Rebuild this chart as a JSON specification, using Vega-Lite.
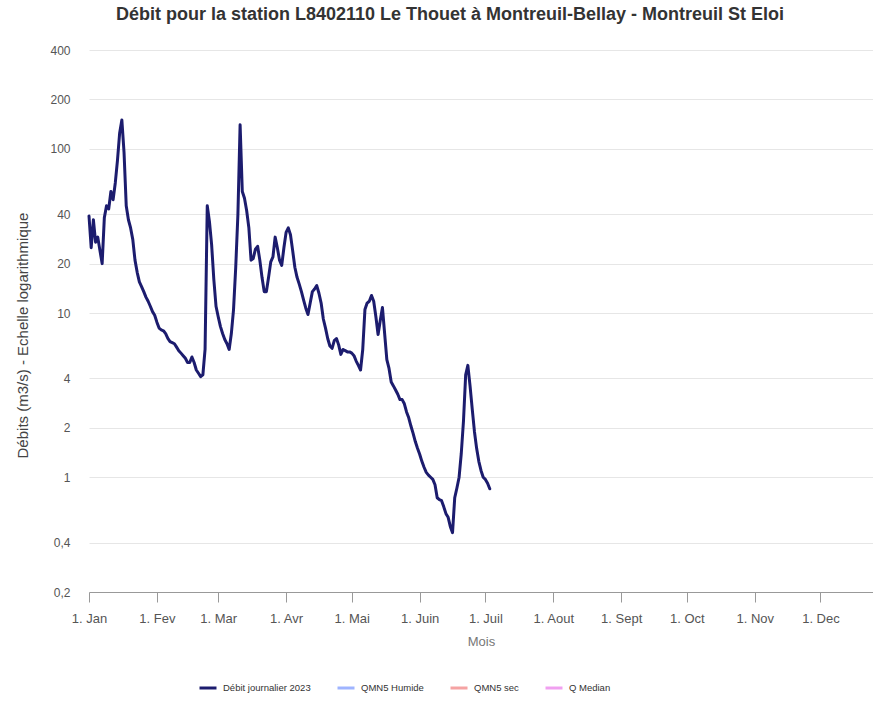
{
  "$schema": "https://vega.github.io/schema/vega-lite/v6.json",
  "width": 784,
  "height": 542,
  "autosize": {"type": "none"},
  "padding": {"left": 89, "top": 50, "right": 0, "bottom": 121},
  "background": "white",
  "title": {
    "text": "Débit pour la station L8402110 Le Thouet à Montreuil-Bellay - Montreuil St Eloi",
    "anchor": "middle",
    "dx": -31,
    "offset": 20,
    "fontSize": 18,
    "fontWeight": "bold",
    "font": "Liberation Sans",
    "color": "#333333"
  },
  "config": {
    "view": {"stroke": null},
    "font": "Liberation Sans",
    "axis": {"labelFont": "Liberation Sans", "titleFont": "Liberation Sans", "titleFontWeight": "normal"}
  },
  "data": {
    "values": [
      {"date": "2023-01-01", "q": 39}, {"date": "2023-01-02", "q": 25}, {"date": "2023-01-03", "q": 37},
      {"date": "2023-01-04", "q": 27}, {"date": "2023-01-05", "q": 29}, {"date": "2023-01-06", "q": 24},
      {"date": "2023-01-07", "q": 20}, {"date": "2023-01-08", "q": 38}, {"date": "2023-01-09", "q": 45},
      {"date": "2023-01-10", "q": 43}, {"date": "2023-01-11", "q": 55}, {"date": "2023-01-12", "q": 49},
      {"date": "2023-01-13", "q": 62}, {"date": "2023-01-14", "q": 85}, {"date": "2023-01-15", "q": 125},
      {"date": "2023-01-16", "q": 150}, {"date": "2023-01-17", "q": 95}, {"date": "2023-01-18", "q": 45},
      {"date": "2023-01-19", "q": 37}, {"date": "2023-01-20", "q": 33}, {"date": "2023-01-21", "q": 28},
      {"date": "2023-01-22", "q": 21}, {"date": "2023-01-23", "q": 17.7}, {"date": "2023-01-24", "q": 15.5},
      {"date": "2023-01-25", "q": 14.5}, {"date": "2023-01-26", "q": 13.5}, {"date": "2023-01-27", "q": 12.5},
      {"date": "2023-01-28", "q": 11.8}, {"date": "2023-01-29", "q": 11}, {"date": "2023-01-30", "q": 10.2},
      {"date": "2023-01-31", "q": 9.7}, {"date": "2023-02-01", "q": 8.8}, {"date": "2023-02-02", "q": 8.1},
      {"date": "2023-02-03", "q": 7.9}, {"date": "2023-02-04", "q": 7.8}, {"date": "2023-02-05", "q": 7.5},
      {"date": "2023-02-06", "q": 7.0}, {"date": "2023-02-07", "q": 6.7}, {"date": "2023-02-08", "q": 6.6},
      {"date": "2023-02-09", "q": 6.5}, {"date": "2023-02-10", "q": 6.2}, {"date": "2023-02-11", "q": 5.9},
      {"date": "2023-02-12", "q": 5.7}, {"date": "2023-02-13", "q": 5.5}, {"date": "2023-02-14", "q": 5.3},
      {"date": "2023-02-15", "q": 5.0}, {"date": "2023-02-16", "q": 5.0}, {"date": "2023-02-17", "q": 5.4},
      {"date": "2023-02-18", "q": 5.0}, {"date": "2023-02-19", "q": 4.5}, {"date": "2023-02-20", "q": 4.3},
      {"date": "2023-02-21", "q": 4.1}, {"date": "2023-02-22", "q": 4.2}, {"date": "2023-02-23", "q": 6},
      {"date": "2023-02-24", "q": 45}, {"date": "2023-02-25", "q": 36}, {"date": "2023-02-26", "q": 26},
      {"date": "2023-02-27", "q": 16}, {"date": "2023-02-28", "q": 11}, {"date": "2023-03-01", "q": 9.5},
      {"date": "2023-03-02", "q": 8.3}, {"date": "2023-03-03", "q": 7.5}, {"date": "2023-03-04", "q": 6.9},
      {"date": "2023-03-05", "q": 6.5}, {"date": "2023-03-06", "q": 6.0}, {"date": "2023-03-07", "q": 7.5},
      {"date": "2023-03-08", "q": 10.5}, {"date": "2023-03-09", "q": 19}, {"date": "2023-03-10", "q": 40},
      {"date": "2023-03-11", "q": 140}, {"date": "2023-03-12", "q": 55}, {"date": "2023-03-13", "q": 50},
      {"date": "2023-03-14", "q": 42}, {"date": "2023-03-15", "q": 33}, {"date": "2023-03-16", "q": 21},
      {"date": "2023-03-17", "q": 21.5}, {"date": "2023-03-18", "q": 24.5}, {"date": "2023-03-19", "q": 25.5},
      {"date": "2023-03-20", "q": 21}, {"date": "2023-03-21", "q": 16.5}, {"date": "2023-03-22", "q": 13.5},
      {"date": "2023-03-23", "q": 13.5}, {"date": "2023-03-24", "q": 16.5}, {"date": "2023-03-25", "q": 20.5},
      {"date": "2023-03-26", "q": 22}, {"date": "2023-03-27", "q": 29}, {"date": "2023-03-28", "q": 25},
      {"date": "2023-03-29", "q": 21}, {"date": "2023-03-30", "q": 19.5}, {"date": "2023-03-31", "q": 25},
      {"date": "2023-04-01", "q": 31}, {"date": "2023-04-02", "q": 33}, {"date": "2023-04-03", "q": 30},
      {"date": "2023-04-04", "q": 24}, {"date": "2023-04-05", "q": 19}, {"date": "2023-04-06", "q": 16.5},
      {"date": "2023-04-07", "q": 15}, {"date": "2023-04-08", "q": 13.5}, {"date": "2023-04-09", "q": 12},
      {"date": "2023-04-10", "q": 10.7}, {"date": "2023-04-11", "q": 9.8}, {"date": "2023-04-12", "q": 11.5},
      {"date": "2023-04-13", "q": 13.5}, {"date": "2023-04-14", "q": 14}, {"date": "2023-04-15", "q": 14.7},
      {"date": "2023-04-16", "q": 13.2}, {"date": "2023-04-17", "q": 11.5}, {"date": "2023-04-18", "q": 9.2},
      {"date": "2023-04-19", "q": 8.1}, {"date": "2023-04-20", "q": 7}, {"date": "2023-04-21", "q": 6.3},
      {"date": "2023-04-22", "q": 6.1}, {"date": "2023-04-23", "q": 6.8}, {"date": "2023-04-24", "q": 7.0},
      {"date": "2023-04-25", "q": 6.4}, {"date": "2023-04-26", "q": 5.6}, {"date": "2023-04-27", "q": 6.0},
      {"date": "2023-04-28", "q": 5.9}, {"date": "2023-04-29", "q": 5.8}, {"date": "2023-04-30", "q": 5.8},
      {"date": "2023-05-01", "q": 5.7}, {"date": "2023-05-02", "q": 5.5}, {"date": "2023-05-03", "q": 5.1},
      {"date": "2023-05-04", "q": 4.8}, {"date": "2023-05-05", "q": 4.5}, {"date": "2023-05-06", "q": 6.0},
      {"date": "2023-05-07", "q": 10.5}, {"date": "2023-05-08", "q": 11.5}, {"date": "2023-05-09", "q": 11.8},
      {"date": "2023-05-10", "q": 12.8}, {"date": "2023-05-11", "q": 11.8}, {"date": "2023-05-12", "q": 9.5},
      {"date": "2023-05-13", "q": 7.4}, {"date": "2023-05-14", "q": 9}, {"date": "2023-05-15", "q": 10.8},
      {"date": "2023-05-16", "q": 7.5}, {"date": "2023-05-17", "q": 5.2}, {"date": "2023-05-18", "q": 4.6},
      {"date": "2023-05-19", "q": 3.8}, {"date": "2023-05-20", "q": 3.6}, {"date": "2023-05-21", "q": 3.4},
      {"date": "2023-05-22", "q": 3.2}, {"date": "2023-05-23", "q": 2.97}, {"date": "2023-05-24", "q": 2.97},
      {"date": "2023-05-25", "q": 2.8}, {"date": "2023-05-26", "q": 2.5}, {"date": "2023-05-27", "q": 2.3},
      {"date": "2023-05-28", "q": 2.05}, {"date": "2023-05-29", "q": 1.85}, {"date": "2023-05-30", "q": 1.65},
      {"date": "2023-05-31", "q": 1.5}, {"date": "2023-06-01", "q": 1.38}, {"date": "2023-06-02", "q": 1.25},
      {"date": "2023-06-03", "q": 1.15}, {"date": "2023-06-04", "q": 1.07}, {"date": "2023-06-05", "q": 1.03},
      {"date": "2023-06-06", "q": 1.0}, {"date": "2023-06-07", "q": 0.97}, {"date": "2023-06-08", "q": 0.9},
      {"date": "2023-06-09", "q": 0.75}, {"date": "2023-06-10", "q": 0.73}, {"date": "2023-06-11", "q": 0.72},
      {"date": "2023-06-12", "q": 0.66}, {"date": "2023-06-13", "q": 0.6}, {"date": "2023-06-14", "q": 0.57},
      {"date": "2023-06-15", "q": 0.5}, {"date": "2023-06-16", "q": 0.46}, {"date": "2023-06-17", "q": 0.75},
      {"date": "2023-06-18", "q": 0.86}, {"date": "2023-06-19", "q": 1.0}, {"date": "2023-06-20", "q": 1.4},
      {"date": "2023-06-21", "q": 2.2}, {"date": "2023-06-22", "q": 4.2}, {"date": "2023-06-23", "q": 4.8},
      {"date": "2023-06-24", "q": 3.6}, {"date": "2023-06-25", "q": 2.6}, {"date": "2023-06-26", "q": 1.9},
      {"date": "2023-06-27", "q": 1.5}, {"date": "2023-06-28", "q": 1.25}, {"date": "2023-06-29", "q": 1.1},
      {"date": "2023-06-30", "q": 1.0}, {"date": "2023-07-01", "q": 0.97}, {"date": "2023-07-02", "q": 0.92},
      {"date": "2023-07-03", "q": 0.85}
    ]
  },
  "mark": {"type": "line", "strokeWidth": 3, "strokeJoin": "round", "strokeCap": "round"},
  "encoding": {
    "x": {
      "field": "date",
      "type": "temporal",
      "scale": {"type": "utc", "domain": [{"year": 2023, "month": "jan", "date": 1, "utc": true}, {"year": 2023, "month": "dec", "date": 25, "utc": true}], "nice": false},
      "axis": {
        "title": "Mois",
        "values": [
          {"year": 2023, "month": "jan", "date": 1, "utc": true},
          {"year": 2023, "month": "feb", "date": 1, "utc": true},
          {"year": 2023, "month": "mar", "date": 1, "utc": true},
          {"year": 2023, "month": "apr", "date": 1, "utc": true},
          {"year": 2023, "month": "may", "date": 1, "utc": true},
          {"year": 2023, "month": "jun", "date": 1, "utc": true},
          {"year": 2023, "month": "jul", "date": 1, "utc": true},
          {"year": 2023, "month": "aug", "date": 1, "utc": true},
          {"year": 2023, "month": "sep", "date": 1, "utc": true},
          {"year": 2023, "month": "oct", "date": 1, "utc": true},
          {"year": 2023, "month": "nov", "date": 1, "utc": true},
          {"year": 2023, "month": "dec", "date": 1, "utc": true}
        ],
        "labelExpr": "'1. ' + ['Jan','Fev','Mar','Avr','Mai','Juin','Juil','Aout','Sept','Oct','Nov','Dec'][utcmonth(datum.value)]",
        "grid": false,
        "domainColor": "#999999",
        "tickColor": "#999999",
        "tickSize": 10,
        "labelPadding": 10,
        "labelFontSize": 13,
        "labelColor": "#555555",
        "labelFlush": false,
        "labelOverlap": false,
        "titleFontSize": 13,
        "titleColor": "#777777",
        "titlePadding": 10
      }
    },
    "y": {
      "field": "q",
      "type": "quantitative",
      "scale": {"type": "log", "domain": [0.2, 400], "nice": false},
      "axis": {
        "title": "Débits (m3/s) - Echelle logarithmique",
        "values": [0.2, 0.4, 1, 2, 4, 10, 20, 40, 100, 200, 400],
        "labelExpr": "replace(toString(datum.value), '.', ',')",
        "grid": true,
        "gridColor": "#e6e6e6",
        "domain": false,
        "ticks": false,
        "labelPadding": 19,
        "labelFontSize": 12,
        "labelColor": "#555555",
        "titleFontSize": 15,
        "titleColor": "#444444",
        "titleAngle": -90,
        "titleX": -67,
        "titleY": 285,
        "titleAlign": "center",
        "titleBaseline": "middle"
      }
    },
    "color": {
      "datum": "Débit journalier 2023",
      "type": "nominal",
      "scale": {
        "domain": ["Débit journalier 2023", "QMN5 Humide", "QMN5 sec", "Q Median"],
        "range": ["#1c1c6e", "#9fb4ff", "#f5a3a3", "#f0a0f0"]
      },
      "legend": {
        "title": null,
        "orient": "none",
        "legendX": 109,
        "legendY": 628,
        "direction": "horizontal",
        "symbolType": "stroke",
        "symbolSize": 289,
        "symbolStrokeWidth": 3,
        "labelFontSize": 9.5,
        "labelColor": "#333333",
        "labelOffset": 5,
        "columnPadding": 20,
        "gridAlign": "none"
      }
    }
  }
}
